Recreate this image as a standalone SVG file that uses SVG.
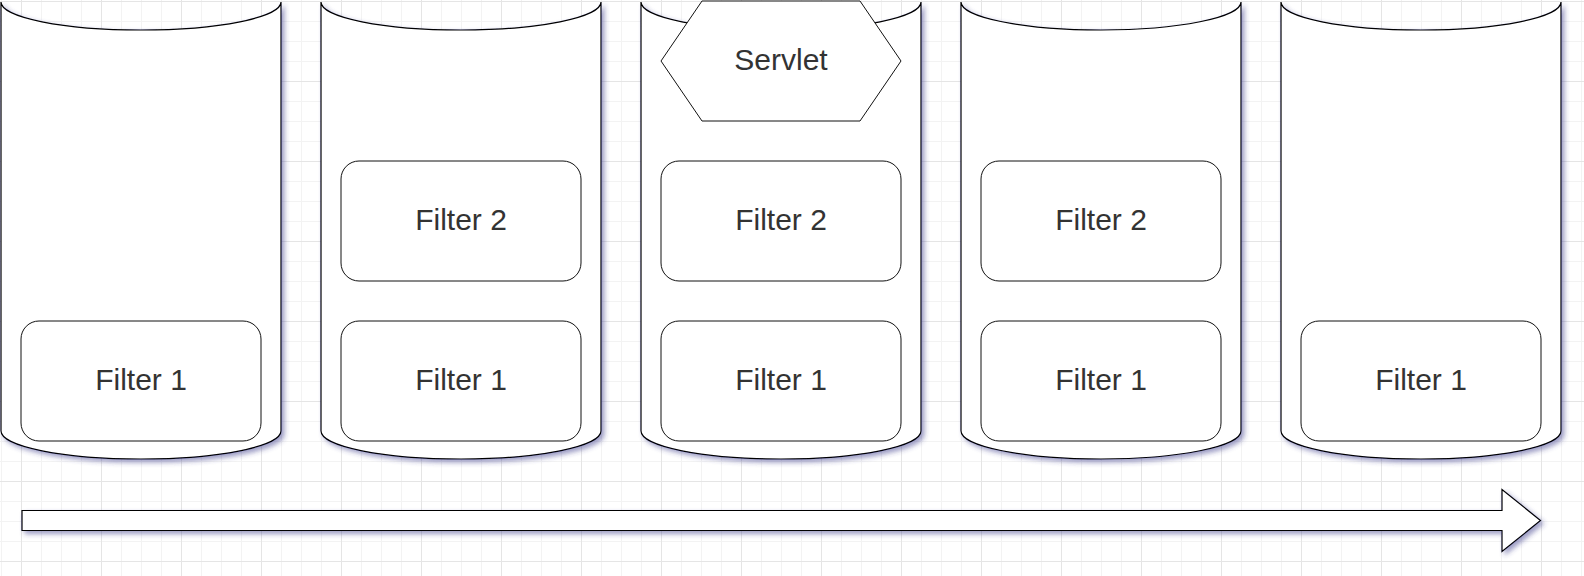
<svg xmlns="http://www.w3.org/2000/svg" width="1584" height="576" viewBox="0 0 1584 576">
<defs>
<pattern id="grid" patternUnits="userSpaceOnUse" x="21" y="1" width="80" height="80">
<rect x="0" y="0" width="80" height="80" fill="#ffffff"/>
<g fill="#f3f3f3">
<rect x="20" y="0" width="1" height="80"/><rect x="40" y="0" width="1" height="80"/><rect x="60" y="0" width="1" height="80"/>
<rect x="0" y="20" width="80" height="1"/><rect x="0" y="40" width="80" height="1"/><rect x="0" y="60" width="80" height="1"/>
</g>
<g fill="#e5e5e5">
<rect x="0" y="0" width="1" height="80"/><rect x="0" y="0" width="80" height="1"/>
</g>
</pattern>
<filter id="shadow" x="-5%" y="-5%" width="115%" height="120%">
<feGaussianBlur in="SourceAlpha" stdDeviation="2.6"/>
<feOffset dx="3" dy="3" result="b"/>
<feFlood flood-color="#3a3a8a" flood-opacity="0.5"/>
<feComposite in2="b" operator="in"/>
<feMerge><feMergeNode/><feMergeNode in="SourceGraphic"/></feMerge>
</filter>
</defs>
<style>
.cyl{fill:#ffffff;stroke:#000000;stroke-width:1.2}
.box{fill:#ffffff;stroke:#111111;stroke-width:1}
.hex{fill:#ffffff;stroke:#111111;stroke-width:1}
.lbl{font-family:"Liberation Sans",Helvetica,Arial,sans-serif;font-size:30px;fill:#333333;text-anchor:middle}
.arrow{fill:#ffffff;stroke:#000000;stroke-width:1.2}
</style>
<rect x="0" y="0" width="1584" height="576" fill="url(#grid)"/>

<g id="cylinder1" filter="url(#shadow)"><path class="cyl" d="M1,2 L1,431 A140,28 0 0 0 281,431 L281,2 A140,28 0 0 1 1,2 Z"/></g>
<g id="cylinder2" filter="url(#shadow)"><path class="cyl" d="M321,2 L321,431 A140,28 0 0 0 601,431 L601,2 A140,28 0 0 1 321,2 Z"/></g>
<g id="cylinder3" filter="url(#shadow)"><path class="cyl" d="M641,2 L641,431 A140,28 0 0 0 921,431 L921,2 A140,28 0 0 1 641,2 Z"/></g>
<g id="cylinder4" filter="url(#shadow)"><path class="cyl" d="M961,2 L961,431 A140,28 0 0 0 1241,431 L1241,2 A140,28 0 0 1 961,2 Z"/></g>
<g id="cylinder5" filter="url(#shadow)"><path class="cyl" d="M1281,2 L1281,431 A140,28 0 0 0 1561,431 L1561,2 A140,28 0 0 1 1281,2 Z"/></g>

<g id="c1-filter1"><rect class="box" x="21" y="321" width="240" height="120" rx="18"/><text class="lbl" x="141" y="390">Filter 1</text></g>

<g id="c2-filter2"><rect class="box" x="341" y="161" width="240" height="120" rx="18"/><text class="lbl" x="461" y="230">Filter 2</text></g>
<g id="c2-filter1"><rect class="box" x="341" y="321" width="240" height="120" rx="18"/><text class="lbl" x="461" y="390">Filter 1</text></g>

<g id="servlet"><polygon class="hex" points="661,61 702,1 860,1 901,61 860,121 702,121"/><text class="lbl" x="781" y="70">Servlet</text></g>
<g id="c3-filter2"><rect class="box" x="661" y="161" width="240" height="120" rx="18"/><text class="lbl" x="781" y="230">Filter 2</text></g>
<g id="c3-filter1"><rect class="box" x="661" y="321" width="240" height="120" rx="18"/><text class="lbl" x="781" y="390">Filter 1</text></g>

<g id="c4-filter2"><rect class="box" x="981" y="161" width="240" height="120" rx="18"/><text class="lbl" x="1101" y="230">Filter 2</text></g>
<g id="c4-filter1"><rect class="box" x="981" y="321" width="240" height="120" rx="18"/><text class="lbl" x="1101" y="390">Filter 1</text></g>

<g id="c5-filter1"><rect class="box" x="1301" y="321" width="240" height="120" rx="18"/><text class="lbl" x="1421" y="390">Filter 1</text></g>

<g id="connectors">
<g id="flow-arrow" filter="url(#shadow)"><polygon class="arrow" points="22,510.5 1502,510.5 1502,489.5 1540.5,520.5 1502,551.5 1502,530.5 22,530.5"/></g>
</g>
</svg>
